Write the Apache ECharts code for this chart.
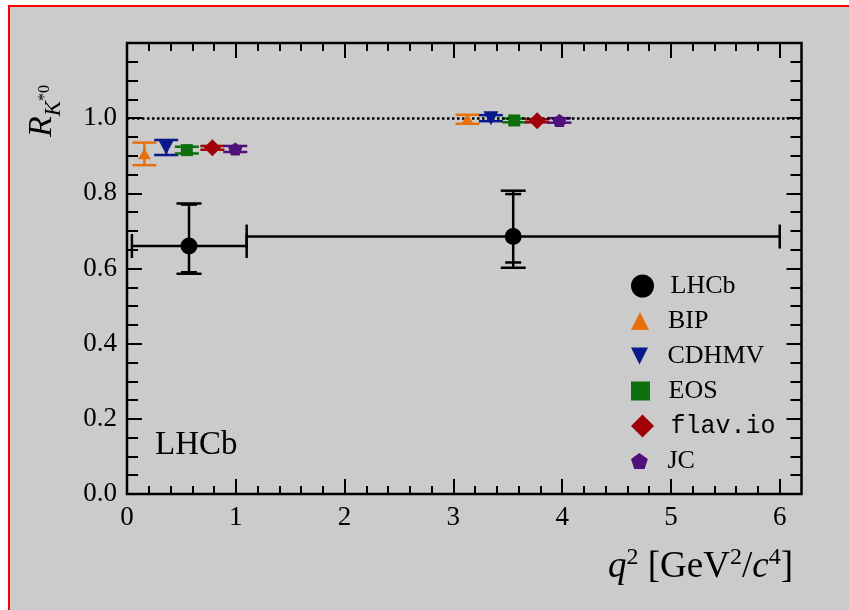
<!DOCTYPE html>
<html>
<head>
<meta charset="utf-8">
<title>R_K*0 vs q2</title>
<script src="https://cdn.jsdelivr.net/npm/echarts@6/dist/echarts.min.js"></script>
<style>
  html, body { margin: 0; padding: 0; background: #fff; overflow: hidden; }
  #frame {
    position: absolute; left: 8px; top: 5px; width: 900px; height: 700px;
    border-left: 2px solid #ff0000; border-top: 2px solid #ff0000;
    background: #cbcbcb;
  }
  #chart { position: absolute; left: 0; top: 0; width: 849px; height: 610px; }
</style>
</head>
<body>
<div id="frame"></div>
<div id="chart"></div>
<script>
// LHCb measurement, two q^2 bins
const lhcbQ2 = [0.57, 3.55]
const lhcbQ2Lo = [0.045, 1.1]
const lhcbQ2Hi = [1.1, 6.0]
const lhcbR = [0.660, 0.685]
const lhcbStatUp = [0.110, 0.113]
const lhcbStatDown = [0.070, 0.069]
const lhcbTotUp = [0.113, 0.122]
const lhcbTotDown = [0.074, 0.083]

// SM predictions (drawn slightly offset in q^2)
const bipQ2 = [0.16, 3.13]
const bipR = [0.905, 0.997]
const bipErr = [0.030, 0.012]

const cdhmvQ2 = [0.36, 3.345]
const cdhmvR = [0.922, 1.000]
const cdhmvErr = [0.020, 0.008]

const eosQ2 = [0.55, 3.56]
const eosR = [0.915, 0.994]
const eosErr = [0.009, 0.005]

const flavioQ2 = [0.785, 3.77]
const flavioR = [0.921, 0.993]
const flavioErr = [0.005, 0.004]

const jcQ2 = [0.995, 3.975]
const jcR = [0.918, 0.994]
const jcErr = [0.008, 0.006]

// axis ticks
const xMajor = [0, 1, 2, 3, 4, 5, 6]
const yMajor = [0, 0.2, 0.4, 0.6, 0.8, 1.0]
const smLine = 1.0

function minorTicks(major, step, end) {
  const out = []
  for (let v = step; v < end - 1e-9; v += step) {
    const r = Math.round(v * 1000) / 1000
    if (!major.some(m => Math.abs(m - r) < 1e-6)) out.push(r)
  }
  return out
}
const xMinor = minorTicks(xMajor, 0.2, 6.2)
const yMinor = minorTicks(yMajor, 0.05, 1.2)

const SERIF = 'Liberation Serif, DejaVu Serif, serif'
const MONO = 'Liberation Mono, DejaVu Sans Mono, monospace'

const models = [
  { name: 'BIP', q2: bipQ2, r: bipR, err: bipErr, color: '#e8700a',
    symbol: 'triangle', size: [13, 11], rotate: 0,
    icon: 'path://M0,-1 L1,1 L-1,1 Z', iconH: 18 },
  { name: 'CDHMV', q2: cdhmvQ2, r: cdhmvR, err: cdhmvErr, color: '#0b1a8a',
    symbol: 'triangle', size: [15, 14], rotate: 180,
    icon: 'path://M-1,-1 L1,-1 L0,1 Z', iconH: 17 },
  { name: 'EOS', q2: eosQ2, r: eosR, err: eosErr, color: '#0d6e0d',
    symbol: 'rect', size: [12, 12], rotate: 0,
    icon: 'path://M0,0 L1,0 L1,1 L0,1 Z', iconH: 19 },
  { name: 'flav.io', q2: flavioQ2, r: flavioR, err: flavioErr, color: '#a00008',
    symbol: 'diamond', size: [17, 17], rotate: 0,
    icon: 'path://M0,-1 L1,0 L0,1 L-1,0 Z', iconH: 23 },
  { name: 'JC', q2: jcQ2, r: jcR, err: jcErr, color: '#50107a',
    symbol: 'path://M0,-1 L0.951,-0.309 L0.588,0.809 L-0.588,0.809 L-0.951,-0.309 Z',
    size: [14, 13], rotate: 0,
    icon: 'path://M0,-1 L0.951,-0.309 L0.588,0.809 L-0.588,0.809 L-0.951,-0.309 Z', iconH: 16 }
]

function seg(x1, y1, x2, y2, style) {
  return { type: 'line', shape: { x1, y1, x2, y2 }, style }
}

/** LHCb: bin-width bar + stat / total vertical bars */
function renderLhcb(params, api) {
  const x = api.value(0), y = api.value(1)
  const c = api.coord([x, y])
  const pl = api.coord([api.value(2), y])
  const ph = api.coord([api.value(3), y])
  const st = api.coord([x, y + api.value(4)])
  const sb = api.coord([x, y - api.value(5)])
  const tt = api.coord([x, y + api.value(6)])
  const tb = api.coord([x, y - api.value(7)])
  const s = { stroke: '#000', lineWidth: 2.5 }
  return {
    type: 'group',
    children: [
      seg(pl[0], c[1], ph[0], c[1], s),
      seg(pl[0], c[1] - 12, pl[0], c[1] + 12, s),
      seg(ph[0], c[1] - 12, ph[0], c[1] + 12, s),
      seg(c[0], tt[1], c[0], tb[1], s),
      seg(c[0] - 12.5, tt[1], c[0] + 12.5, tt[1], s),
      seg(c[0] - 12.5, tb[1], c[0] + 12.5, tb[1], s),
      seg(c[0] - 8, st[1], c[0] + 8, st[1], s),
      seg(c[0] - 8, sb[1], c[0] + 8, sb[1], s)
    ]
  }
}

function errRenderer(color) {
  return function (params, api) {
    const x = api.value(0), y = api.value(1), e = api.value(2)
    const top = api.coord([x, y + e])
    const bot = api.coord([x, y - e])
    const s = { stroke: color, lineWidth: 2.5 }
    return {
      type: 'group',
      children: [
        seg(top[0], top[1], bot[0], bot[1], s),
        seg(top[0] - 12, top[1], top[0] + 12, top[1], s),
        seg(bot[0] - 12, bot[1], bot[0] + 12, bot[1], s)
      ]
    }
  }
}

const series = []

// dotted SM line
series.push({
  type: 'line', name: 'sm', data: [], z: 1, silent: true,
  markLine: {
    silent: true, symbol: ['none', 'none'], animation: false,
    label: { show: false },
    lineStyle: { color: '#000', type: [2.5, 2.5], width: 2.5 },
    data: [{ yAxis: smLine }]
  }
})

series.push({
  type: 'custom', name: 'LHCb err', z: 3,
  renderItem: renderLhcb,
  encode: { x: 0, y: 1 },
  data: lhcbQ2.map((q, i) => [q, lhcbR[i], lhcbQ2Lo[i], lhcbQ2Hi[i],
    lhcbStatUp[i], lhcbStatDown[i], lhcbTotUp[i], lhcbTotDown[i]])
})
series.push({
  type: 'scatter', name: 'LHCb', z: 6, symbol: 'circle', symbolSize: 17,
  itemStyle: { color: '#000', opacity: 1 },
  data: lhcbQ2.map((q, i) => [q, lhcbR[i]])
})

models.forEach(m => {
  series.push({
    type: 'custom', name: m.name + ' err', z: 4,
    renderItem: errRenderer(m.color),
    encode: { x: 0, y: 1 },
    data: m.q2.map((q, i) => [q, m.r[i], m.err[i]])
  })
  series.push({
    type: 'scatter', name: m.name, z: 5,
    symbol: m.symbol, symbolSize: m.size, symbolRotate: m.rotate,
    itemStyle: { color: m.color, opacity: 1 },
    data: m.q2.map((q, i) => [q, m.r[i]])
  })
})

// one legend per entry so every icon keeps its own size
const legendRows = [285, 320, 355, 390, 425.5, 460]
const legendItems = [{ name: 'LHCb', icon: 'circle', iconH: 23 }].concat(
  models.map(m => ({ name: m.name, icon: m.icon, iconH: m.iconH })))
const legends = legendItems.map((it, i) => ({
  show: true,
  left: 631,
  top: legendRows[i] - 12,
  padding: 0,
  itemWidth: 46,
  itemHeight: it.iconH,
  selectedMode: false,
  data: [{ name: it.name, icon: it.icon }],
  textStyle: {
    color: '#000',
    fontFamily: it.name === 'flav.io' ? MONO : SERIF,
    fontSize: it.name === 'flav.io' ? 25 : 26,
    lineHeight: 24
  }
}))

function xAxisDef(position, ticks, len, labels) {
  return {
    type: 'value', position, min: 0, max: 6.2,
    axisLine: { show: false, onZero: false },
    splitLine: { show: false },
    axisTick: { show: true, inside: true, length: len, customValues: ticks,
      lineStyle: { color: '#000', width: 2 } },
    axisLabel: labels
      ? { show: true, customValues: xMajor, color: '#000', fontFamily: SERIF, fontSize: 27, margin: 10 }
      : { show: false }
  }
}
function yAxisDef(position, ticks, len, labels) {
  return {
    type: 'value', position, min: 0, max: 1.2,
    axisLine: { show: false, onZero: false },
    splitLine: { show: false },
    axisTick: { show: true, inside: true, length: len, customValues: ticks,
      lineStyle: { color: '#000', width: 2 } },
    axisLabel: labels
      ? { show: true, customValues: yMajor, color: '#000', fontFamily: SERIF, fontSize: 27, margin: 10,
          formatter: v => v.toFixed(1) }
      : { show: false }
  }
}

const chart = echarts.init(document.getElementById('chart'), null, { renderer: 'canvas' })
chart.setOption({
  animation: false,
  backgroundColor: 'transparent',
  grid: {
    left: 127, top: 43, right: 47.5, bottom: 116,
    show: true, borderColor: '#000', borderWidth: 2.5, backgroundColor: 'transparent'
  },
  xAxis: [
    xAxisDef('bottom', xMajor, 15, true),
    xAxisDef('bottom', xMinor, 8, false),
    xAxisDef('top', xMajor, 15, false),
    xAxisDef('top', xMinor, 8, false)
  ],
  yAxis: [
    yAxisDef('left', yMajor, 15, true),
    yAxisDef('left', yMinor, 11, false),
    yAxisDef('right', yMajor, 15, false),
    yAxisDef('right', yMinor, 11, false)
  ],
  legend: legends,
  graphic: [
    {
      type: 'text', left: 155, top: 429,
      style: { text: 'LHCb', fill: '#000', font: '33px ' + SERIF }
    },
    {
      type: 'text', x: 45, y: 111, rotation: Math.PI / 2,
      style: {
        text: '{r|R}{k|K}{s|*0}',
        align: 'center', verticalAlign: 'middle', fill: '#000',
        rich: {
          r: { fontFamily: SERIF, fontStyle: 'italic', fontSize: 34, lineHeight: 40, verticalAlign: 'top' },
          k: { fontFamily: SERIF, fontStyle: 'italic', fontSize: 23, lineHeight: 40, verticalAlign: 'bottom' },
          s: { fontFamily: SERIF, fontSize: 16, lineHeight: 40, verticalAlign: 'middle' }
        }
      }
    },
    {
      type: 'text', x: 793, y: 567,
      style: {
        text: '{i|q}{p|2} [GeV{p|2}/{i|c}{p|4}]',
        align: 'right', verticalAlign: 'middle', fill: '#000',
        font: '37px ' + SERIF,
        rich: {
          i: { fontFamily: SERIF, fontStyle: 'italic', fontSize: 37, lineHeight: 42 },
          p: { fontFamily: SERIF, fontSize: 24, lineHeight: 42, verticalAlign: 'top' }
        }
      }
    }
  ],
  series
})
</script>
</body>
</html>
